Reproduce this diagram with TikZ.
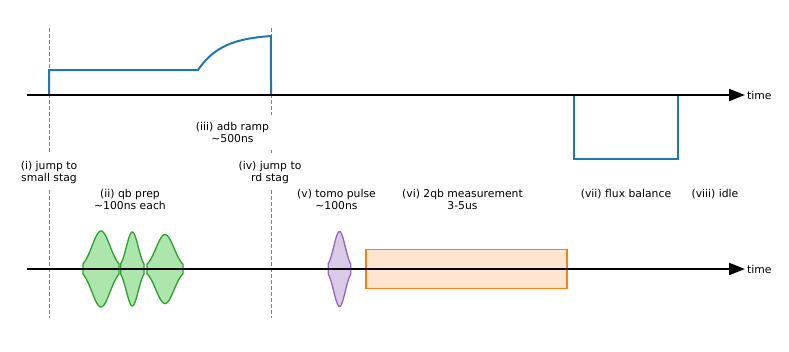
\documentclass[tikz,border=0pt]{standalone}
\usepackage{fontspec}
\setmainfont{DejaVu Sans}
\usetikzlibrary{arrows.meta}
\definecolor{mblue}{HTML}{1F77B4}
\definecolor{mgreen}{HTML}{2CA02C}
\definecolor{mgreenfill}{RGB}{172,230,172}
\definecolor{mpurple}{HTML}{9467BD}
\definecolor{mpurplefill}{RGB}{218,202,232}
\definecolor{morange}{HTML}{FF7F0E}
\definecolor{morangefill}{RGB}{255,229,207}
\newcommand{\pulseshape}[4]{%
  \draw[#1] ({#2-2*#3},269)
    -- plot[domain=-2:2,samples=41,variable=\t] ({#2+\t*#3},{269-#4*exp(-0.5*(\t)*(\t))})
    -- ({#2+2*#3},269)
    -- plot[domain=2:-2,samples=41,variable=\t] ({#2+\t*#3},{269+#4*exp(-0.5*(\t)*(\t))})
    -- cycle;}
\begin{document}
\begin{tikzpicture}[x=1pt,y=-1pt,
  axisline/.style={line width=2pt,-{Triangle[length=16pt,width=12pt]}},
  marker/.style={gray,line width=0.9pt,dash pattern=on 4pt off 2pt},
  wave/.style={mblue,line width=2pt,line join=miter},
  lbl/.style={font=\fontsize{10.8}{11.8}\selectfont,align=center,inner sep=0pt,anchor=north},
  timelbl/.style={font=\fontsize{10.8}{11.8}\selectfont,inner sep=0pt,anchor=west},
  gpulse/.style={draw=mgreen,fill=mgreenfill,line width=1.3pt,line join=round},
  ppulse/.style={draw=mpurple,fill=mpurplefill,line width=1.3pt,line join=round},
  measbox/.style={draw=morange,fill=morangefill,line width=1.3pt,minimum width=201pt,minimum height=39pt,inner sep=0pt}
]
\useasboundingbox (0,0) rectangle (789,351);

% axis end points
\coordinate (a0) at (27,95);
\coordinate (a1) at (745,95);
\coordinate (b0) at (27,269);
\coordinate (b1) at (745,269);

% dashed markers
\coordinate (m1t) at (49,28);   \coordinate (m1u) at (49,153);
\coordinate (m1v) at (49,190);  \coordinate (m1w) at (49,318);
\coordinate (m4t) at (271,28);  \coordinate (m4u) at (271,115);
\coordinate (m4p) at (271,150); \coordinate (m4q) at (271,153);
\coordinate (m4v) at (271,190); \coordinate (m4w) at (271,318);
\draw[marker] (m1t) -- (m1u);
\draw[marker] (m1v) -- (m1w);
\draw[marker] (m4t) -- (m4u);
\draw[marker] (m4p) -- (m4q);
\draw[marker] (m4v) -- (m4w);

% flux waveform
\draw[wave] (49,95) -- (49,70) -- (198,70)
  -- plot[domain=0:1,samples=40,variable=\t] ({198+73*\t},{70-34*(1-exp(-3*\t))/(1-exp(-3))})
  -- (271,95);
\draw[wave] (574,95) -- (574,159) -- (678,159) -- (678,95);

% qubit pulses
\pulseshape{gpulse}{101}{9}{38}
\pulseshape{gpulse}{132.3}{5.85}{37}
\pulseshape{gpulse}{165}{9}{34.5}
\pulseshape{ppulse}{339.5}{5.65}{37.5}
\node[measbox] (meas) at (466.5,269.3) {};

% time axes
\draw[axisline] (a0) -- (a1);
\draw[axisline] (b0) -- (b1);
\node[timelbl] (ttop) at (747,95) {time};
\node[timelbl] (tbot) at (747,269) {time};

% labels
\node[lbl] (l1) at (49,161.5) {(i) jump to\\small stag};
\node[lbl] (l2) at (130,189.5) {(ii) qb prep\\\textasciitilde100ns each};
\node[lbl] (l3) at (232.5,122) {(iii) adb ramp\\\textasciitilde500ns};
\node[lbl] (l4) at (270,161.5) {(iv) jump to\\rd stag};
\node[lbl] (l5) at (336.5,189.5) {(v) tomo pulse\\\textasciitilde100ns};
\node[lbl] (l6) at (462.5,189.5) {(vi) 2qb measurement\\3-5us};
\node[lbl] (l7) at (626,189.5) {(vii) flux balance};
\node[lbl] (l8) at (715,189.5) {(viii) idle};
\end{tikzpicture}
\end{document}
